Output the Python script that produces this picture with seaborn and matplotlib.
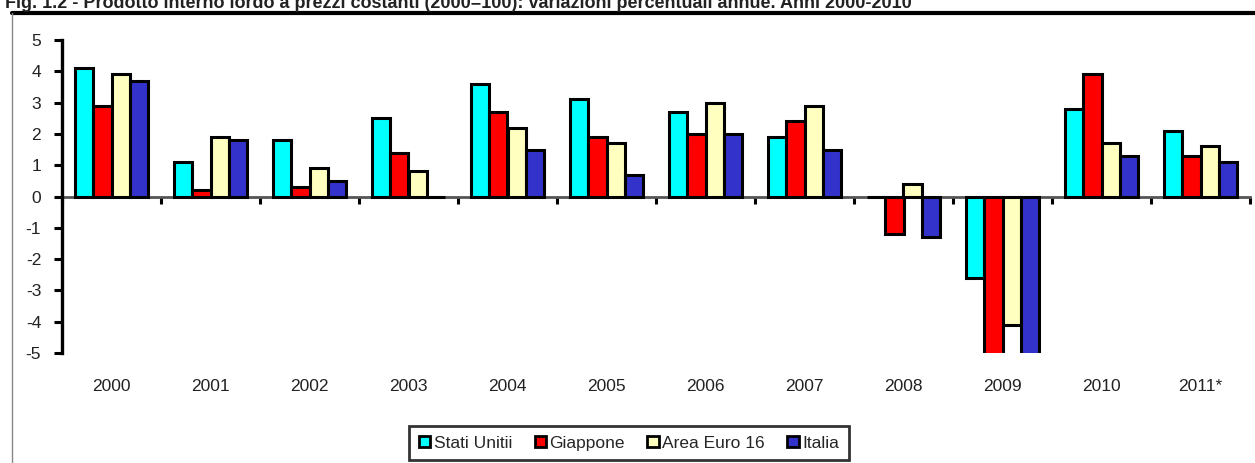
import matplotlib
matplotlib.use("Agg")
import matplotlib.pyplot as plt
import seaborn as sns
import pandas as pd
from matplotlib import font_manager
from matplotlib.patches import Patch
from matplotlib.lines import Line2D

years = ["2000", "2001", "2002", "2003", "2004", "2005", "2006", "2007",
         "2008", "2009", "2010", "2011*"]
series_names = ["Stati Unitii", "Giappone", "Area Euro 16", "Italia"]
stati_uniti = [4.1, 1.1, 1.8, 2.5, 3.6, 3.1, 2.7, 1.9, 0.0, -2.6, 2.8, 2.1]
giappone = [2.9, 0.2, 0.3, 1.4, 2.7, 1.9, 2.0, 2.4, -1.2, -6.3, 3.9, 1.3]
area_euro = [3.9, 1.9, 0.9, 0.8, 2.2, 1.7, 3.0, 2.9, 0.4, -4.1, 1.7, 1.6]
italia = [3.7, 1.8, 0.5, 0.0, 1.5, 0.7, 2.0, 1.5, -1.3, -5.2, 1.3, 1.1]
colors = ["#00FFFF", "#FF0000", "#FFFFC0", "#3333CC"]
yticks = [5, 4, 3, 2, 1, 0, -1, -2, -3, -4, -5]
title = ("Fig. 1.2 - Prodotto interno lordo a prezzi costanti (2000=100): "
         "variazioni percentuali annue. Anni 2000-2010")

rows = []
for name, vals in zip(series_names, [stati_uniti, giappone, area_euro, italia]):
    for y, v in zip(years, vals):
        rows.append({"anno": y, "serie": name, "valore": v})
df = pd.DataFrame(rows)

sns.set_theme(style="white")
avail = {f.name for f in font_manager.fontManager.ttflist}
if "Liberation Sans Narrow" in avail:
    fam = ["Liberation Sans Narrow", "DejaVu Sans"]
    fs = 14
    tfs = 14
else:
    fam = ["Liberation Sans", "DejaVu Sans"]
    fs = 12.5
    tfs = 13
plt.rcParams["font.family"] = fam

W, H = 1255, 463
fig = plt.figure(figsize=(W / 100, H / 100), dpi=100)
ax = fig.add_axes([62 / W, 1 - 353 / H, (1250 - 62) / W, (353 - 40) / H])

sns.barplot(data=df, x="anno", y="valore", hue="serie", order=years,
            hue_order=series_names, palette=colors, edgecolor="black",
            linewidth=2.2, width=0.74, ax=ax, legend=False, saturation=1)

ax.set_ylim(-5, 5)
ax.set_xlim(-0.5, len(years) - 0.5)
ax.set_yticks(yticks)
ax.set_yticklabels([str(t) for t in yticks], fontsize=fs, color="#222222")
ax.set_xticks(range(len(years)))
ax.set_xticklabels(years, fontsize=fs, color="#222222")
ax.set_xlabel("")
ax.set_ylabel("")
ax.tick_params(axis="x", length=0, pad=19)
ax.tick_params(axis="y", length=6, width=2.2, direction="out", color="black", pad=9, left=True)
for s in ["top", "right", "bottom"]:
    ax.spines[s].set_visible(False)
ax.spines["left"].set_color("black")
ax.spines["left"].set_linewidth(2.4)

sec = ax.secondary_xaxis(0.5)
sec.xaxis.set_ticks_position("bottom")
sec.set_xticks([i - 0.5 for i in range(len(years) + 1)])
sec.tick_params(axis="x", length=5, width=2.2, direction="out", color="black",
                labelbottom=False, labeltop=False)
for s in sec.spines.values():
    s.set_visible(False)
sec.spines["bottom"].set_visible(True)
sec.spines["bottom"].set_color("#555555")
sec.spines["bottom"].set_linewidth(2)

# outer frame
fig.add_artist(Line2D([12 / W, 1.0], [1 - 13 / H, 1 - 13 / H], color="black", lw=3))
fig.add_artist(Line2D([12 / W, 12 / W], [0, 1 - 13 / H], color="#888888", lw=1))

fig.text(5 / W, 1 - 8 / H, title, fontsize=tfs, fontweight="bold",
         ha="left", va="baseline", color="#222222")

handles = [Patch(facecolor=c, edgecolor="black", linewidth=2) for c in colors]
leg = fig.legend(handles, series_names, loc="upper center",
                 bbox_to_anchor=(629 / W, 1 - 426 / H), ncol=4, frameon=True,
                 fancybox=False, fontsize=fs, handlelength=0.65, handleheight=0.65,
                 handletextpad=0.2, columnspacing=1.3, borderpad=0.55,
                 borderaxespad=0)
leg.get_frame().set_edgecolor("black")
leg.get_frame().set_linewidth(2)

fig.savefig("out.png", dpi=100)
